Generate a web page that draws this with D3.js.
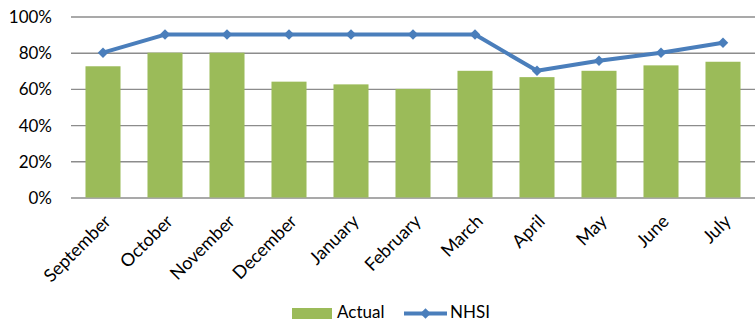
<!DOCTYPE html>
<html><head><meta charset="utf-8">
<script src="https://cdn.jsdelivr.net/npm/d3@7"></script>
<style>body{margin:0;background:#fff}svg{display:block}text{font-family:Lato,"Open Sans",sans-serif;fill:#000}</style>
</head><body>
<svg id="c" width="755" height="321"></svg>
<script>
const months = ["September","October","November","December","January","February","March","April","May","June","July"];
const actual = [0.725,0.80,0.80,0.64,0.625,0.60,0.70,0.665,0.70,0.73,0.75];
const nhsi = [0.80,0.90,0.90,0.90,0.90,0.90,0.90,0.70,0.755,0.80,0.855];
const yTicks = [0,0.2,0.4,0.6,0.8,1.0];

const svg = d3.select("#c");
const x = d3.scaleBand().domain(months).range([72,754]).paddingInner(0.435).paddingOuter(0.2175);
const y = d3.scaleLinear().domain([0,1]).range([197.5,16.5]);

const yAxis = svg.append("g").attr("transform","translate(71,0)")
  .call(d3.axisLeft(y).tickValues(yTicks).tickFormat(d3.format(".0%")).tickSize(-684).tickPadding(19));
yAxis.select(".domain").remove();
yAxis.selectAll("line").attr("stroke","#8c8c8c").attr("stroke-width",1.4);
yAxis.selectAll("text").style("font-size","17px").attr("dy","0.35em");

svg.append("g").selectAll("rect").data(months).join("rect")
  .attr("x",d=>x(d)).attr("width",x.bandwidth())
  .attr("y",(d,i)=>y(actual[i])).attr("height",(d,i)=>y(0)-y(actual[i]))
  .attr("fill","#9bbb59");

const line = d3.line().x((d,i)=>x(months[i])+x.bandwidth()/2).y(d=>y(d));
svg.append("path").datum(nhsi).attr("d",line).attr("fill","none")
  .attr("stroke","#4a7ebb").attr("stroke-width",4).attr("stroke-linejoin","round");
const diamond = d3.symbol().type(d3.symbolDiamond2).size(70);
svg.append("g").selectAll("path").data(nhsi).join("path")
  .attr("d",diamond)
  .attr("transform",(d,i)=>`translate(${x(months[i])+x.bandwidth()/2},${y(d)})`)
  .attr("fill","#4a7ebb");

const xAxis = svg.append("g").attr("transform","translate(0,197.5)")
  .call(d3.axisBottom(x).tickSize(0).tickPadding(0));
xAxis.select(".domain").remove();
xAxis.selectAll("text").style("font-size","18px")
  .attr("text-anchor","end").attr("dy",0).attr("y",0)
  .attr("transform","translate(9,25) rotate(-45)");

// legend
const lg = svg.append("g");
lg.append("rect").attr("x",292).attr("y",308).attr("width",40).attr("height",11).attr("fill","#9bbb59");
lg.append("text").attr("x",337).attr("y",317.5).style("font-size","17px").text("Actual");
lg.append("line").attr("x1",404).attr("x2",447).attr("y1",313.5).attr("y2",313.5).attr("stroke","#4a7ebb").attr("stroke-width",4);
lg.append("path").attr("d",diamond).attr("transform","translate(425.5,313.5)").attr("fill","#4a7ebb");
lg.append("text").attr("x",450).attr("y",317.5).style("font-size","17px").text("NHSI");
</script>
</body></html>
